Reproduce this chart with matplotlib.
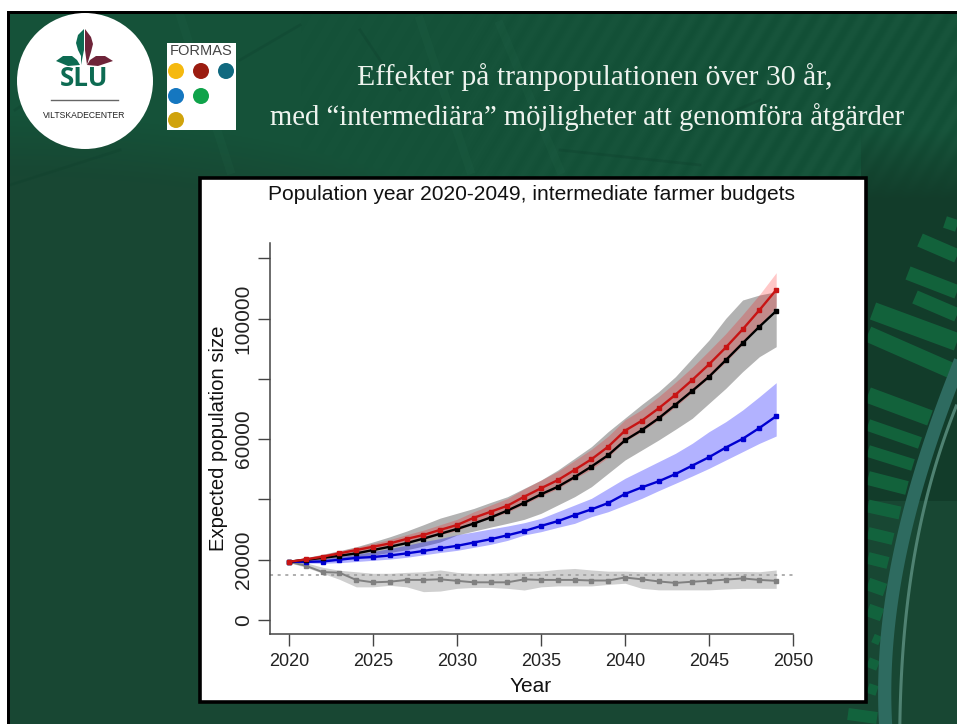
import numpy as np
import matplotlib
matplotlib.use("Agg")
import matplotlib.pyplot as plt
from matplotlib.patches import Circle, Rectangle, Polygon

W, H = 957, 724

years = list(range(2020, 2050))

red = [19300, 20100, 21000, 22100, 23200, 24300, 25400, 26900, 28200, 29900,
       31500, 33900, 35900, 37900, 40900, 43700, 46400, 49800, 53300, 57500,
       62800, 66100, 70200, 74700, 79600, 84800, 90400, 96400, 102800, 109500]
red_hi = [19800, 20700, 21700, 22900, 24100, 25400, 26700, 28300, 29800, 31600,
          33400, 35900, 38100, 40300, 43500, 46400, 49300, 52900, 56600, 61000,
          66400, 69800, 74100, 78800, 83800, 89300, 95000, 101300, 107900, 115200]
red_lo = [18900, 19500, 20300, 21300, 22300, 23300, 24300, 25600, 26800, 28300,
          29700, 31900, 33800, 35700, 38400, 41100, 43600, 46900, 50000, 54000,
          59300, 62500, 66400, 70700, 75500, 80400, 85600, 91400, 97600, 103900]

black = [19300, 20000, 20600, 21300, 22100, 23200, 24300, 25500, 27000, 28600,
         30200, 32000, 34000, 36300, 38900, 41700, 44200, 47400, 50900, 54700,
         59600, 63000, 66900, 71400, 76000, 80700, 86200, 91800, 97300, 102500]
black_hi = [19800, 20700, 21800, 23000, 24300, 25900, 27600, 29500, 31600, 33800,
            35400, 37000, 39000, 40900, 43670, 46430, 49750, 53620, 57500, 62500,
            67000, 71500, 75730, 80710, 86800, 92870, 100060, 106140, 107800, 108900]
black_lo = [18800, 19000, 19500, 20000, 20700, 21500, 22400, 23300, 24500, 25900,
            28200, 29500, 30800, 32060, 33390, 35380, 38140, 40900, 44220, 48650,
            53070, 56380, 59700, 63240, 66890, 71870, 76840, 82370, 87350, 90660]

blue = [19300, 19300, 19400, 20000, 20600, 20900, 21400, 22100, 22900, 23800,
        24600, 25700, 26800, 28100, 29500, 31200, 32800, 34800, 36700, 38800,
        41800, 44000, 46000, 48400, 51200, 54000, 57200, 60100, 63700, 67600]
blue_hi = [19600, 19800, 20300, 21000, 21800, 22700, 23700, 24800, 26000, 27000,
           28300, 29200, 30200, 31180, 32280, 33720, 35930, 38140, 40350, 43670,
           46990, 49750, 52520, 55280, 58600, 62470, 65790, 69650, 74080, 78720]
blue_lo = [19000, 18900, 18800, 19000, 19400, 19800, 20200, 20800, 21600, 22400,
           23100, 24100, 25100, 26400, 28190, 29300, 30730, 32060, 34270, 35930,
           38140, 40350, 42900, 45330, 47760, 50300, 53070, 55830, 58600, 61030]

grey = [19300, 18000, 15900, 15700, 13300, 12500, 12700, 13300, 13300, 13500,
        13000, 12500, 12500, 12500, 13500, 13300, 13300, 13300, 13100, 13100,
        14100, 13500, 12800, 12300, 12700, 13000, 13400, 13800, 13300, 13000]
grey_hi = [19500, 19000, 17500, 16500, 16000, 15500, 15500, 15800, 16000, 16600,
           15800, 15500, 15500, 15800, 16000, 16200, 16800, 17100, 16600, 16200,
           16200, 16000, 16000, 16000, 16000, 16000, 16000, 16100, 16000, 16600]
grey_lo = [19000, 17500, 15500, 13500, 11000, 11000, 11500, 11000, 9400, 9600,
           10500, 10800, 10800, 10500, 9950, 11000, 11300, 11300, 11300, 11800,
           12200, 10500, 10000, 10000, 10000, 10000, 10300, 10500, 10500, 10500]

threshold = 14900

x_ticks = [2020, 2025, 2030, 2035, 2040, 2045, 2050]
y_ticks = [0, 20000, 40000, 60000, 80000, 100000, 120000]
y_labels = ["0", "20000", "", "60000", "", "100000", ""]

plt.rcParams["font.family"] = ["Liberation Sans", "DejaVu Sans"]

fig = plt.figure(figsize=(W / 100, H / 100), dpi=100, facecolor="white")

# slide background, in pixel coordinates
bg = fig.add_axes([0, 0, 1, 1])
bg.axis("off")

yy, xx = np.mgrid[0:H, 0:W]
fade = np.clip((175 + 330 * (xx / W) ** 2 - yy) / 60, 0, 1)
ripple = np.sin((xx + 0.6 * yy) / 3.0) * np.clip((xx - 300) / 500, 0, 1)
base = np.array([0x18, 0x47, 0x33])
top = np.array([0x15, 0x52, 0x39])
rgb = base[None, None, :] + fade[:, :, None] * (top - base)[None, None, :]
rgb = rgb + (fade * ripple * 3)[:, :, None]
# darker behind the right hand bars, ends at a soft edge near y=500
dark = np.clip((yy - 130) / 70, 0, 1) * (yy < 501) * (xx > 860)
rgb = rgb + dark[:, :, None] * (np.array([0x12, 0x3c, 0x2a]) - rgb)
bg.imshow(np.clip(rgb, 0, 255).astype(np.uint8), extent=(0, W, H, 0), aspect="auto", zorder=0)
bg.set_xlim(0, W)
bg.set_ylim(H, 0)

# soft streaks behind the heading
for x0, y0, x1, y1 in [(10, 185, 120, 150), (15, 110, 90, 60), (240, 60, 300, 25),
                       (560, 150, 700, 165), (690, 130, 760, 100), (360, 30, 400, 90)]:
    bg.plot([x0, x1], [y0, y1], color="#0e3f2c", lw=2, alpha=0.3, zorder=1)
for x0, y0, x1, y1 in [(500, 25, 560, 170), (420, 20, 470, 170), (180, 15, 230, 170)]:
    bg.plot([x0, x1], [y0, y1], color="#2a6e50", lw=6, alpha=0.14, zorder=1)

# green bars on the right edge: start, end, thickness in px
bars = [(945, 222, 957, 226, 12), (920, 240, 957, 256, 14), (908, 273, 957, 292, 14),
        (915, 297, 957, 315, 14), (873, 311, 957, 342, 18), (868, 334, 950, 370, 16),
        (868, 395, 930, 418, 16), (868, 425, 920, 443, 12), (868, 451, 913, 465, 12),
        (868, 478, 907, 488, 14), (868, 506, 900, 513, 13), (868, 533, 893, 539, 12),
        (868, 558, 888, 563, 12), (868, 584, 885, 590, 13), (868, 610, 882, 615, 13),
        (873, 638, 880, 641, 9), (868, 662, 878, 666, 10), (868, 688, 877, 691, 10),
        (848, 714, 877, 718, 12)]
for x0, y0, x1, y1, t in bars:
    bg.plot([x0, x1], [y0, y1], color="#12693f", lw=t * 0.72, alpha=0.85,
            solid_capstyle="butt", zorder=1)

# arcs lower right
arc_y = np.linspace(366, 724, 60)
arc_x = np.polyval(np.polyfit([366, 424, 465, 509, 582, 644, 724], [957, 940, 923, 907, 895, 888, 885], 3), arc_y)
bg.plot(arc_x, arc_y, color="#2e6b60", lw=9.5, zorder=2)
thin_y = np.linspace(406, 724, 60)
thin_x = np.polyval(np.polyfit([406, 446, 501, 571, 644, 724], [957, 940, 927, 912, 903, 900], 3), thin_y)
bg.plot(thin_x, thin_y, color="#4f8272", lw=2.2, zorder=2)

# slide frame
bg.add_patch(Rectangle((0, 0), W, 11, color="white", lw=0, zorder=3))
bg.add_patch(Rectangle((0, 0), 7, H, color="white", lw=0, zorder=3))
bg.add_patch(Rectangle((7, 11), W, 3, color="black", lw=0, zorder=3))
bg.add_patch(Rectangle((7, 11), 3, H, color="black", lw=0, zorder=3))

# SLU logo
bg.add_patch(Circle((85, 81), 68, color="white", lw=0, zorder=4))
bg.add_patch(Polygon([(84, 29), (78, 35), (76, 43), (78, 50), (81, 56), (81, 65), (84, 50)],
                     closed=True, color="#0d6b52", lw=0, zorder=5))
bg.add_patch(Polygon([(85, 29), (91, 37), (93, 44), (91, 52), (87, 65), (85, 50)],
                     closed=True, color="#6e2439", lw=0, zorder=5))
bg.add_patch(Polygon([(56, 61), (63, 56), (72, 56), (77, 60), (80, 65), (68, 66)],
                     closed=True, color="#0d6b52", lw=0, zorder=5))
bg.add_patch(Polygon([(113, 61), (105, 56), (96, 56), (90, 60), (87, 65), (98, 66)],
                     closed=True, color="#6e2439", lw=0, zorder=5))
bg.text(84.5, 79, "SLU", color="#0d6b52", fontsize=18.7, fontweight="bold", family="Open Sans",
        ha="center", va="center", zorder=5)
bg.plot([51, 118], [99.5, 99.5], color="#666666", lw=1, zorder=5)
bg.text(84.5, 115.5, "VILTSKADECENTER", color="#222222", fontsize=6.2, ha="center", va="center", zorder=5)

# Formas logo
bg.add_patch(Rectangle((167, 43), 69, 87, color="white", lw=0, zorder=4))
bg.text(201.5, 51, "FORMAS", color="#444444", fontsize=10.5, ha="center", va="center", zorder=5)
for cx, cy, col in [(176, 71, "#f5b90f"), (201, 71, "#9b1c10"), (226, 71, "#10697f"),
                    (176, 96, "#1577c0"), (201, 96, "#0fa34a"), (176, 120, "#d0a30c")]:
    bg.add_patch(Circle((cx, cy), 8, color=col, lw=0, zorder=5))

# heading
bg.text(595, 77, "Effekter på tranpopulationen över 30 år,", color="#eef3ee", fontsize=21.4,
        family="Liberation Serif", ha="center", va="center", zorder=5)
bg.text(587, 117, "med “intermediära” möjligheter att genomföra åtgärder", color="#eef3ee", fontsize=20.6,
        family="Liberation Serif", ha="center", va="center", zorder=5)

# chart panel
bg.add_patch(Rectangle((199.5, 177.5), 666, 524, facecolor="white", edgecolor="black", lw=2.6, zorder=4))
bg.text(531, 194, "Population year 2020-2049, intermediate farmer budgets", color="#111111",
        fontsize=15.1, ha="center", va="center", zorder=5)
bg.text(531, 686, "Year", color="#111111", fontsize=15, ha="center", va="center", zorder=5)
bg.text(218, 438, "Expected population size", color="#111111", fontsize=14.6, rotation=90,
        ha="center", va="center", zorder=5)

ax = fig.add_axes([270 / W, 1 - 634 / H, (793 - 270) / W, (634 - 243) / H], facecolor="none", zorder=6)
ax.set_xlim(2018.87, 2050)
ax.set_ylim(-4640, 125050)

ax.fill_between(years, black_lo, black_hi, color="black", alpha=0.30, lw=0)
ax.fill_between(years, red_lo, red_hi, color="red", alpha=0.22, lw=0)
ax.fill_between(years, blue_lo, blue_hi, color="blue", alpha=0.30, lw=0)
ax.fill_between(years, grey_lo, grey_hi, color="black", alpha=0.19, lw=0)

ax.plot([2018.87, 2050], [threshold, threshold], color="#999999", lw=1.1, ls=(0, (2, 3)))

ax.plot(years, grey, color="#808080", lw=1.4, marker="s", ms=3.2)
ax.plot(years, blue, color="#0000d0", lw=1.7, marker="s", ms=3.4)
ax.plot(years, black, color="black", lw=1.7, marker="s", ms=3.4)
ax.plot(years, red, color="#c81414", lw=1.7, marker="s", ms=3.4)

for side in ["top", "right"]:
    ax.spines[side].set_visible(False)
for side in ["left", "bottom"]:
    ax.spines[side].set_color("#444444")
    ax.spines[side].set_linewidth(1.1)

ax.set_xticks(x_ticks)
ax.set_yticks(y_ticks)
ax.set_yticklabels(y_labels, rotation=90, va="center")
ax.tick_params(axis="both", length=8.5, width=1, color="#444444", labelcolor="#222222")
ax.tick_params(axis="x", labelsize=13, pad=5)
ax.tick_params(axis="y", labelsize=15, pad=4)

fig.savefig("out.png", dpi=100)
